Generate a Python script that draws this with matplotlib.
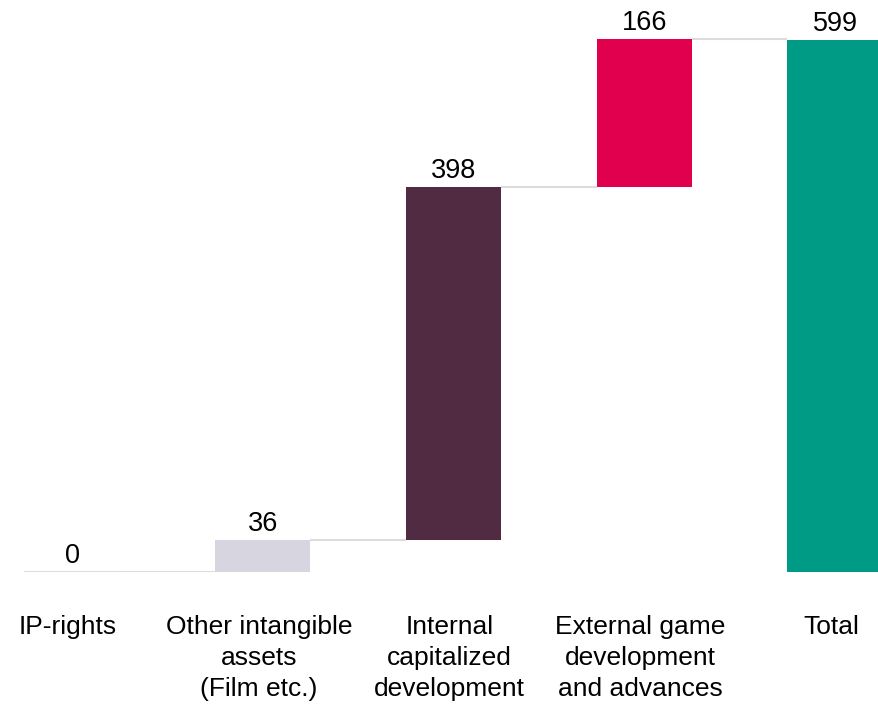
import numpy as np
import matplotlib.pyplot as plt

plt.rcParams['font.family'] = ['Liberation Sans', 'DejaVu Sans']

categories = ["IP-rights", "Other intangible\nassets\n(Film etc.)", "Internal\ncapitalized\ndevelopment",
              "External game\ndevelopment\nand advances", "Total"]
values = [0, 36, 398, 166, 599]
colors = ["#d9d9d9", "#d6d5e0", "#502b42", "#e0004d", "#009b85"]

W, H = 879, 707
fig = plt.figure(figsize=(W / 100, H / 100), dpi=100)
ax = fig.add_axes([0, 135 / H, 1, 572 / H])

x = np.arange(len(values))
width = 0.5
# running bottoms for the waterfall steps, last bar is the total from zero
steps = np.array(values[:-1])
bottoms = np.concatenate([[0], np.cumsum(steps)[:-1], [0]])
tops = bottoms + np.array(values)

ax.bar(x, values, width=width, bottom=bottoms, color=colors, edgecolor="none", zorder=2)
# zero-height bar shows as a thin line
ax.hlines(0, x[0] - width / 2, x[0] + width / 2, color="#e5d9dd", lw=1.5, zorder=2)

# connectors between neighbouring bars
for i in range(len(values) - 1):
    ax.hlines(tops[i], x[i] + width / 2, x[i + 1] - width / 2, color="#dcdcdc", lw=1.5, zorder=1)

for xi, top, v in zip(x, tops, values):
    ax.annotate(f"{v}", (xi, top), xytext=(0, 2), textcoords="offset points",
                ha="center", va="bottom", fontsize=19.5, color="#000000")

ax.set_xlim(-72 / 190.75, (W - 72) / 190.75)
ax.set_ylim(0, 572 / 0.888)
ax.set_xticks(x - 0.02)
ax.set_xticklabels(categories, fontsize=19, linespacing=1.36, color="#000000")
ax.tick_params(axis="x", length=0, pad=31)
ax.set_yticks([])
for s in ax.spines.values():
    s.set_visible(False)

fig.savefig("out.png", dpi=100)
